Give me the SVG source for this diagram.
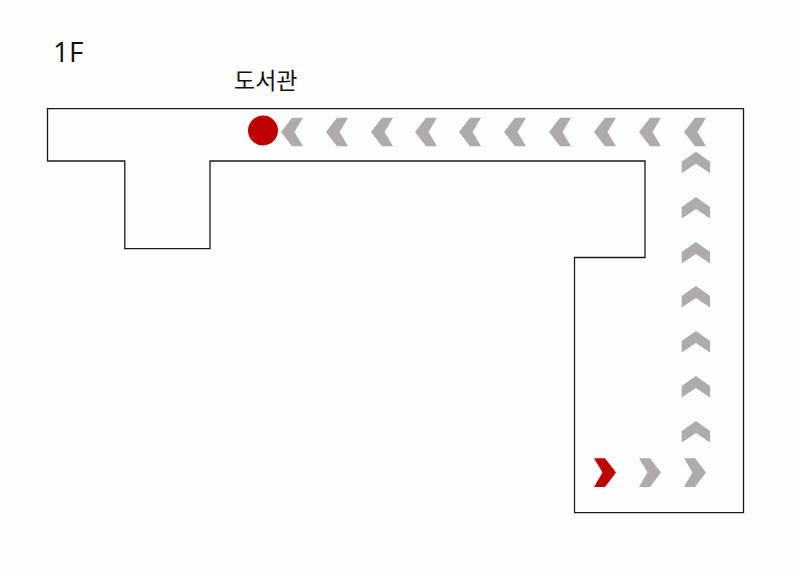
<svg xmlns="http://www.w3.org/2000/svg" width="800" height="571" viewBox="0 0 800 571">
<style>
.wall{fill:none;stroke:#1a1a1a;stroke-width:1.3}
.g{fill:#afabab}
.r{fill:#c00000}
.t{fill:#111;font-family:"Open Sans","Noto Sans CJK KR",sans-serif}
</style>
<defs>
<polygon id="cl" points="0,14.3 11,0 22,0 13.5,14.3 22,28.6 11,28.6"/>
<polygon id="cr" points="22,14.3 11,0 0,0 8.5,14.3 0,28.6 11,28.6"/>
<polygon id="cu" points="14.2,0 28.4,10 28.4,21.5 14.2,12 0,21.5 0,10"/>
</defs>
<rect width="800" height="571" fill="#fefefe"/>
<g id="plan"><path class="wall" d="M47.5 108.7H743.5V512.7H574.5V257.5H645V161H210V248.7H124.8V161H47.5Z"/></g>
<g id="label-1f"><text class="t" x="53" y="62.3" font-size="28">1F</text></g>
<g id="label-library"><text class="t" x="234" y="89" font-size="23">도서관</text></g>
<g id="library-marker"><circle class="r" cx="263" cy="130.5" r="15"/></g>
<g id="route">
<use href="#cl" class="g" x="281" y="117.7"/>
<use href="#cl" class="g" x="326" y="117.7"/>
<use href="#cl" class="g" x="371" y="117.7"/>
<use href="#cl" class="g" x="415" y="117.7"/>
<use href="#cl" class="g" x="459" y="117.7"/>
<use href="#cl" class="g" x="504" y="117.7"/>
<use href="#cl" class="g" x="549" y="117.7"/>
<use href="#cl" class="g" x="594" y="117.7"/>
<use href="#cl" class="g" x="639" y="117.7"/>
<use href="#cl" class="g" x="684" y="117.7"/>
<use href="#cu" class="g" x="681.7" y="151.7"/>
<use href="#cu" class="g" x="681.7" y="197"/>
<use href="#cu" class="g" x="681.7" y="242"/>
<use href="#cu" class="g" x="681.7" y="286"/>
<use href="#cu" class="g" x="681.7" y="331"/>
<use href="#cu" class="g" x="681.7" y="376"/>
<use href="#cu" class="g" x="681.7" y="421"/>
<use href="#cr" class="r" x="594" y="458.3"/>
<use href="#cr" class="g" x="639" y="458.3"/>
<use href="#cr" class="g" x="684" y="458.3"/>
</g>
</svg>
